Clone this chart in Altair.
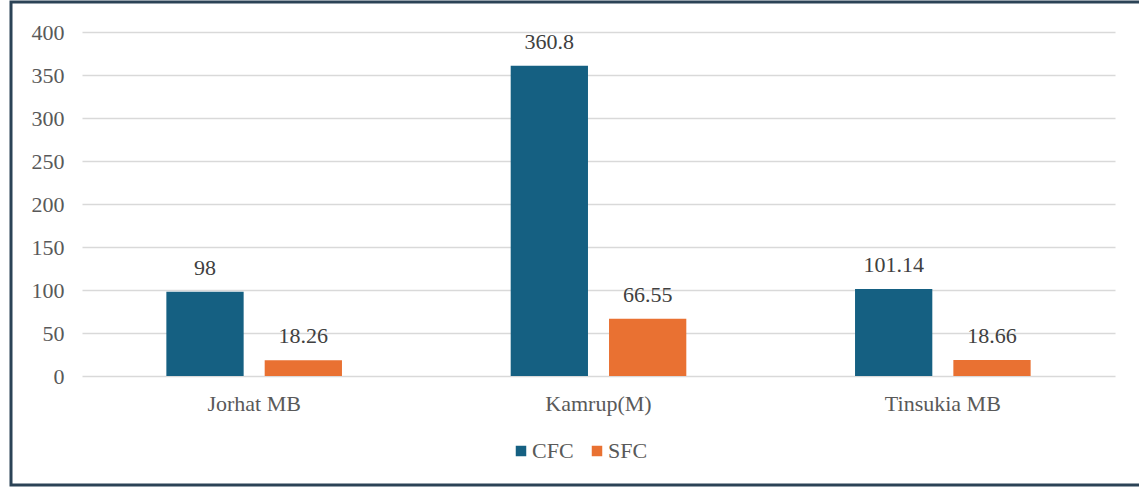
import altair as alt
import pandas as pd

categories = ["Jorhat MB", "Kamrup(M)", "Tinsukia MB"]
series = ["CFC", "SFC"]
cfc_values = [98, 360.8, 101.14]
sfc_values = [18.26, 66.55, 18.66]
cfc_labels = ["98", "360.8", "101.14"]
sfc_labels = ["18.26", "66.55", "18.66"]
y_ticks = [0, 50, 100, 150, 200, 250, 300, 350, 400]
colors = ["#156082", "#E97132"]

rows = []
for i, c in enumerate(categories):
    rows.append({"cat": c, "series": "CFC", "value": cfc_values[i], "label": cfc_labels[i]})
    rows.append({"cat": c, "series": "SFC", "value": sfc_values[i], "label": sfc_labels[i]})
df = pd.DataFrame(rows)

FONT = "Liberation Serif"
TXT = "#595959"
FS = 22

x = alt.X("cat:N", sort=categories, title=None,
          scale=alt.Scale(paddingInner=0.49, paddingOuter=0.245),
          axis=alt.Axis(labelAngle=0, ticks=False, domain=False, grid=False, labelPadding=17,
                        labelFont=FONT, labelFontSize=FS, labelColor=TXT))
xo = alt.XOffset("series:N", sort=series,
                 scale=alt.Scale(paddingInner=0.214, paddingOuter=0))
y = alt.Y("value:Q", title=None,
          scale=alt.Scale(domain=[0, 400], nice=False),
          axis=alt.Axis(values=y_ticks, ticks=False, domain=False, labelPadding=18,
                        labelFont=FONT, labelFontSize=FS, labelColor=TXT,
                        gridColor="#d9d9d9", gridWidth=1.5))
color = alt.Color("series:N", sort=series, title=None,
                  scale=alt.Scale(domain=series, range=colors),
                  legend=alt.Legend(orient="none", legendX=428, legendY=408, direction="horizontal",
                                    symbolType="square", symbolSize=110, symbolStrokeWidth=0,
                                    labelFont=FONT, labelFontSize=FS, labelColor=TXT,
                                    columnPadding=12, labelOffset=0, padding=0))

base = alt.Chart(df)
bars = base.mark_bar().encode(x=x, xOffset=xo, y=y, color=color)
labels = base.mark_text(baseline="bottom", dy=-12, font=FONT, fontSize=FS, color="#404040").encode(
    x=x, xOffset=xo, y=y, text="label:N")
frame = alt.Chart(pd.DataFrame({"a": [0]})).mark_rect(
    fill="transparent", stroke="#2b4356", strokeWidth=3, clip=False).encode(
    x=alt.value(-71), x2=alt.value(1080), y=alt.value(-30), y2=alt.value(453))

chart = alt.layer(bars, labels, frame).properties(
    width=1033, height=344,
    autosize=alt.AutoSizeParams(type="none"),
    padding={"left": 82, "top": 32, "right": 24, "bottom": 112},
).configure(background="white").configure_view(strokeWidth=0, stroke="transparent")

chart.save("out.html", embed_options={"renderer": "svg", "actions": False})
